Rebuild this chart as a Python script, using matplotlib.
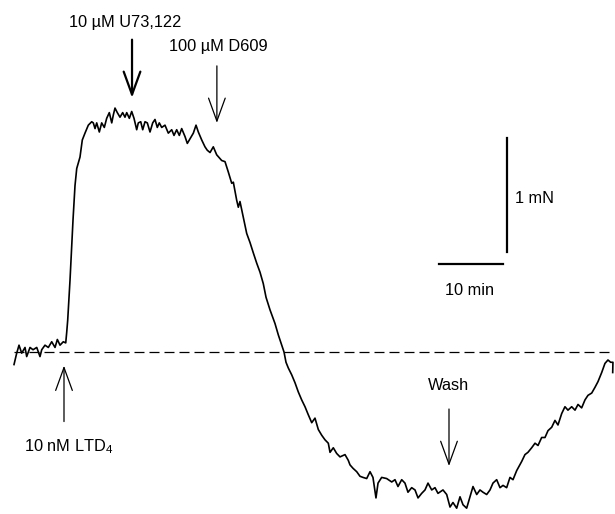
"""Isometric tension trace: LTD4 contraction, U73,122 / D609 relaxation and wash."""

import matplotlib
matplotlib.use("Agg")
import matplotlib.pyplot as plt

plt.rcParams['font.family'] = ['Liberation Sans', 'DejaVu Sans']
plt.rcParams['mathtext.fontset'] = 'custom'
plt.rcParams['mathtext.rm'] = 'Liberation Sans'

# Trace: time (min) and tension above baseline (mN)
time_min = [
    0.0, 0.42, 0.78, 1.2, 1.72, 1.98, 2.5, 2.97, 3.55, 4.06, 4.33, 4.84, 5.36,
    5.89, 6.41, 6.77, 7.19, 7.7, 8.08, 8.23, 8.39, 8.75, 9.22, 9.53, 9.8,
    10.31, 10.67, 11.09, 11.61, 12.14, 12.39, 12.66, 12.92, 13.33, 13.7,
    14.11, 14.48, 14.89, 15.27, 15.52, 15.78, 16.14, 16.56, 16.98, 17.34,
    17.61, 18.02, 18.39, 18.75, 19.17, 19.42, 19.8, 20.11, 20.47, 20.83,
    21.25, 21.67, 22.03, 22.39, 22.7, 23.08, 23.59, 24.11, 24.64, 25.0,
    25.42, 25.83, 26.2, 26.72, 27.08, 27.61, 28.02, 28.44, 28.8, 29.33,
    29.84, 30.2, 30.63, 31.14, 31.67, 32.45, 32.97, 33.48, 34.02, 34.27,
    34.8, 35.05, 35.31, 35.83, 36.36, 36.88, 37.39, 37.92, 38.44, 38.95,
    39.38, 40.0, 40.78, 41.3, 41.83, 42.19, 42.5, 42.86, 43.39, 43.91,
    44.42, 44.95, 45.47, 45.98, 46.52, 47.03, 47.55, 48.08, 48.59, 49.11,
    49.38, 49.89, 50.42, 50.94, 51.72, 52.23, 52.5, 52.97, 53.55, 54.06,
    54.53, 55.11, 55.63, 56.09, 56.56, 56.88, 57.45, 58.23, 59.02, 59.53,
    60.0, 60.58, 61.09, 61.56, 62.14, 62.66, 63.13, 63.7, 64.22, 64.69,
    65.27, 65.78, 66.25, 67.03, 67.61, 68.13, 68.59, 69.17, 69.69, 70.16,
    70.73, 71.25, 71.72, 72.3, 72.81, 73.28, 73.86, 74.38, 74.84, 75.42,
    75.94, 76.41, 76.98, 77.5, 77.97, 78.55, 79.33, 79.84, 80.31, 80.89,
    81.41, 81.88, 82.45, 82.97, 83.44, 84.02, 84.53, 85.0, 85.58, 86.09,
    86.56, 87.14, 87.66, 88.13, 88.7, 89.22, 89.69, 90.27, 90.78, 91.25,
    91.83, 92.34, 92.81, 93.23, 93.59, 93.55,
]
tension_mN = [
    -0.11, -0.01, 0.06, -0.01, 0.04, -0.04, 0.04, 0.02, 0.04, -0.04, 0.02,
    0.06, 0.04, 0.09, 0.04, 0.11, 0.06, 0.09, 0.08, 0.17, 0.28, 0.63, 1.16,
    1.46, 1.61, 1.71, 1.86, 1.92, 1.99, 2.02, 2.01, 1.96, 2.01, 1.93, 2.01,
    1.97, 2.05, 2.10, 2.01, 2.08, 2.14, 2.10, 2.06, 2.10, 2.06, 2.10, 2.05,
    2.11, 2.05, 1.95, 2.01, 2.02, 1.95, 2.02, 2.01, 1.93, 2.01, 2.04, 1.97,
    2.01, 1.97, 1.99, 1.92, 1.95, 1.90, 1.95, 1.90, 1.96, 1.89, 1.83, 1.88,
    1.92, 1.99, 1.93, 1.86, 1.80, 1.77, 1.75, 1.80, 1.73, 1.68, 1.67, 1.58,
    1.48, 1.49, 1.33, 1.27, 1.32, 1.18, 1.04, 0.96, 0.87, 0.78, 0.70, 0.60,
    0.48, 0.37, 0.25, 0.15, 0.06, 0.0, -0.09, -0.14, -0.20, -0.27, -0.35,
    -0.42, -0.48, -0.55, -0.62, -0.58, -0.68, -0.73, -0.77, -0.80, -0.88,
    -0.84, -0.89, -0.92, -0.90, -0.95, -0.99, -1.02, -1.05, -1.09, -1.10,
    -1.11, -1.05, -1.10, -1.28, -1.15, -1.10, -1.11, -1.14, -1.12, -1.18,
    -1.12, -1.15, -1.23, -1.19, -1.21, -1.28, -1.24, -1.21, -1.15, -1.21,
    -1.19, -1.24, -1.21, -1.25, -1.36, -1.32, -1.37, -1.27, -1.34, -1.37,
    -1.27, -1.18, -1.25, -1.21, -1.23, -1.25, -1.21, -1.15, -1.12, -1.19,
    -1.17, -1.19, -1.10, -1.12, -1.04, -0.96, -0.90, -0.88, -0.84, -0.80,
    -0.82, -0.75, -0.75, -0.69, -0.66, -0.60, -0.64, -0.54, -0.48, -0.51,
    -0.48, -0.51, -0.46, -0.49, -0.42, -0.38, -0.36, -0.31, -0.26, -0.18,
    -0.10, -0.07, -0.09, -0.09, -0.18,
]

# Drug additions and wash: label, arrow time, arrow tail/tip (mN), label position
event_labels = ['10 \u00b5M U73,122', '100 \u00b5M D609', '10 nM LTD$_\\mathregular{4}$', 'Wash']
event_times = [18.44, 31.7, 7.81, 67.97]
arrow_tail = [2.74, 2.51, -0.61, -0.50]
arrow_tip = [2.23, 2.01, -0.12, -1.00]
label_x = [17.3, 32.0, 8.6, 67.97]
label_y = [2.89, 2.68, -0.83, -0.29]
arrow_lw = [1.6, 0.9, 0.9, 0.9]

fig = plt.figure(figsize=(6.15, 5.14), dpi=100)
ax = fig.add_axes([0, 0, 1, 1])
ax.set_xlim(-2.19, 93.91)
ax.set_ylim(-1.421, 3.088)
ax.axis('off')

# baseline
ax.plot([0, 93.6], [0, 0], color='black', lw=0.9, dashes=(8, 4))

ax.plot(time_min, tension_mN, color='black', lw=1.2)

for lab, t, y0, y1, tx, ty, lw in zip(event_labels, event_times, arrow_tail,
                                      arrow_tip, label_x, label_y, arrow_lw):
    ax.annotate('', xy=(t, y1), xytext=(t, y0),
                arrowprops=dict(arrowstyle='->,head_length=16.5,head_width=6',
                                mutation_scale=1, lw=lw, color='black',
                                shrinkA=0, shrinkB=0))
    ax.text(tx, ty, lab, ha='center', va='center', fontsize=11.8)

# scale bars: 1 mN and 10 min
ax.plot([77.03, 77.03], [0.877, 1.877], color='black', lw=1.6)
ax.plot([66.4, 76.4], [0.772, 0.772], color='black', lw=1.6)
ax.text(78.3, 1.35, '1 mN', ha='left', va='center', fontsize=11.8)
ax.text(71.25, 0.54, '10 min', ha='center', va='center', fontsize=11.8)

fig.savefig('out.png', dpi=100, facecolor='white')
